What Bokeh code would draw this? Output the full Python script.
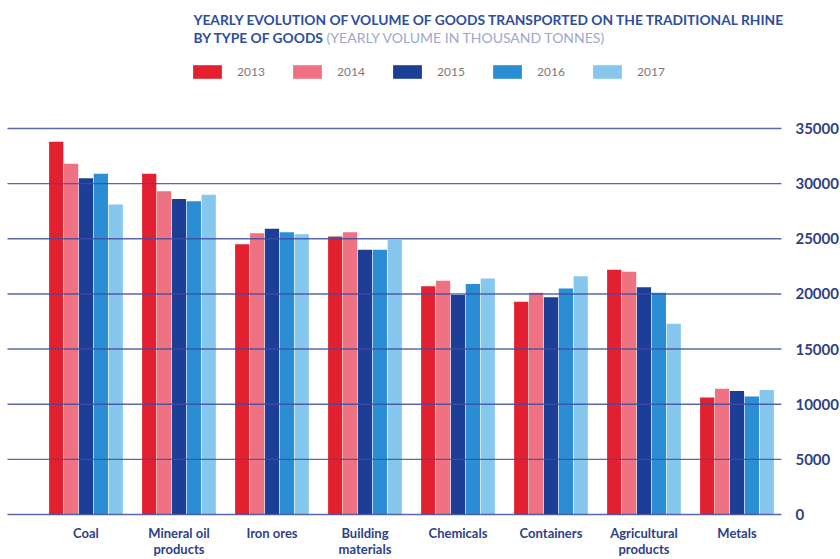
from bokeh.plotting import figure
from bokeh.models import (ColumnDataSource, Range1d, Label)
from bokeh.transform import dodge
from bokeh.core.properties import value
from bokeh.embed import file_html
from bokeh.resources import INLINE

categories = ["Coal", "Mineral oil\nproducts", "Iron ores", "Building\nmaterials",
              "Chemicals", "Containers", "Agricultural\nproducts", "Metals"]
years = ["2013", "2014", "2015", "2016", "2017"]
v2013 = [33800, 30900, 24500, 25200, 20700, 19300, 22200, 10600]
v2014 = [31800, 29300, 25500, 25600, 21200, 20100, 22000, 11400]
v2015 = [30500, 28600, 25900, 24000, 19900, 19700, 20600, 11200]
v2016 = [30900, 28400, 25600, 24000, 20900, 20500, 20100, 10700]
v2017 = [28100, 29000, 25400, 24900, 21400, 21600, 17300, 11300]
y_ticks = [0, 5000, 10000, 15000, 20000, 25000, 30000, 35000]
y_tick_labels = [str(t) for t in y_ticks]

colors = ["#E3202F", "#EE7282", "#1C3E97", "#2B8DD4", "#86C7EE"]
series = [v2013, v2014, v2015, v2016, v2017]

xs = list(range(len(categories)))
src = ColumnDataSource(dict(x=xs, label=categories,
                            **{"y" + yr: vals for yr, vals in zip(years, series)}))

X0, XG0, XG1, X1 = -0.919, -0.844, 7.478, 8.113
W, H = 840, 559
p = figure(width=W, height=H, output_backend="svg", toolbar_location=None,
           x_range=Range1d(X0, X1), y_range=Range1d(-4080, 46606),
           x_axis_location=None, y_axis_location=None, min_border=0,
           min_border_left=0, min_border_top=0, min_border_right=0,
           min_border_bottom=0)
p.outline_line_color = None
p.background_fill_color = "white"
p.xgrid.visible = False
p.ygrid.visible = False

offsets = [-0.32, -0.16, 0.0, 0.16, 0.32]
for yr, off, c in zip(years, offsets, colors):
    p.vbar(x=dodge("x", off, range=p.x_range), top="y" + yr, width=0.153,
           bottom=0, source=src, fill_color=c, line_color=None, legend_label=yr)

# horizontal grid lines (drawn over the bars) + right-hand tick labels
tsrc = ColumnDataSource(dict(y=y_ticks, label=y_tick_labels))
p.segment(x0=XG0, x1=XG1, y0="y", y1="y", source=tsrc,
          line_color="#3F4C9F", line_alpha=0.85, line_width=1.4)
p.text(x=XG1, y="y", text="label", source=tsrc, x_offset=14,
       text_align="left", text_baseline="middle",
       text_font=value("Lato"), text_font_style="bold", text_font_size="15px",
       text_color="#2E3F87")

# category labels under the bars
p.text(x="x", y=0, text="label", source=src, y_offset=10,
       text_align="center", text_baseline="top", text_line_height=1.05,
       text_font=value("Lato"), text_font_style="bold", text_font_size="13px",
       text_color="#2E3F87")

# legend
lg = p.legend[0]
lg.orientation = "horizontal"
lg.location = (189, 479)
lg.glyph_width = 36
lg.glyph_height = 17
lg.label_height = 17
lg.label_width = 40
lg.label_standoff = 12
lg.spacing = 12
lg.padding = 0
lg.margin = 0
lg.border_line_alpha = 0
lg.background_fill_alpha = 0
lg.label_text_font = "Lato"
lg.label_text_font_size = "12px"
lg.label_text_color = "#7A7A7A"

# title (two lines, second line mixed style)
title_color = "#2C4E9E"
p.add_layout(Label(x=193, y=540, x_units="screen", y_units="screen",
                   text="YEARLY EVOLUTION OF VOLUME OF GOODS TRANSPORTED ON THE TRADITIONAL RHINE",
                   text_font="Lato", text_font_style="bold", text_font_size="13.8px",
                   text_color=title_color, text_baseline="alphabetic"))
p.add_layout(Label(x=193, y=522, x_units="screen", y_units="screen",
                   text="BY TYPE OF GOODS",
                   text_font="Lato", text_font_style="bold", text_font_size="13.8px",
                   text_color=title_color, text_baseline="alphabetic"))
p.add_layout(Label(x=326, y=522, x_units="screen", y_units="screen",
                   text="(YEARLY VOLUME IN THOUSAND TONNES)",
                   text_font="Lato", text_font_size="14px",
                   text_color="#9CA8CC", text_baseline="alphabetic"))

open("out.html", "w").write(file_html(p, INLINE))
